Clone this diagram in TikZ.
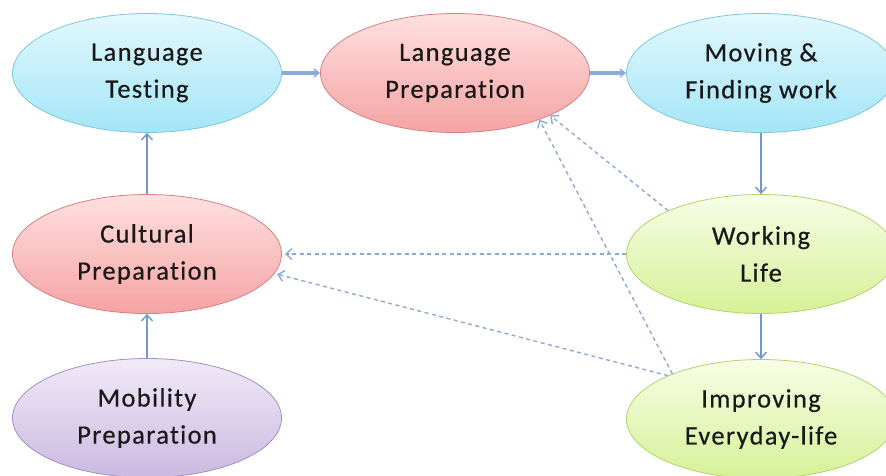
\documentclass[tikz,border=0pt]{standalone}
\usepackage{fontspec}
\setmainfont[LetterSpace=5,Ligatures={NoCommon},FakeBold=0.4]{Carlito}
\usetikzlibrary{shapes.geometric,arrows.meta}
\definecolor{cyT}{HTML}{E2F8FD}\definecolor{cyB}{HTML}{A4E5F7}\definecolor{cyD}{HTML}{80C6DA}
\definecolor{pkT}{HTML}{FFE0E0}\definecolor{pkB}{HTML}{F5A3A3}\definecolor{pkD}{HTML}{D88080}
\definecolor{gnT}{HTML}{F7FDE6}\definecolor{gnB}{HTML}{D6F197}\definecolor{gnD}{HTML}{B3D36C}
\definecolor{puT}{HTML}{F0EAF7}\definecolor{puB}{HTML}{CBB9E1}\definecolor{puD}{HTML}{A58DC4}
\definecolor{arr}{HTML}{7396CC}
\definecolor{arrl}{HTML}{8CA9D9}
\tikzset{
  oval/.style={ellipse, minimum width=269pt, minimum height=119pt, inner sep=0pt,
    align=center, font=\fontsize{26.5}{37}\selectfont, text=black!90, line width=0.8pt, shading=axis},
  cyanoval/.style={oval, draw=cyD, top color=cyT, bottom color=cyB},
  pinkoval/.style={oval, draw=pkD, top color=pkT, bottom color=pkB},
  greenoval/.style={oval, draw=gnD, top color=gnT, bottom color=gnB},
  purpoval/.style={oval, draw=puD, top color=puT, bottom color=puB},
  thickarr/.style={draw=arrl, line width=3.2pt, -{Straight Barb[length=5pt,width=8pt,line width=1.4pt]}},
  thinarr/.style={draw=arr, line width=1.4pt, -{Straight Barb[length=6pt,width=11pt]}},
  dasharr/.style={draw=arrl, line width=1.4pt, dash pattern=on 4pt off 3.5pt, -{Straight Barb[length=6pt,width=11pt]}}
}
\begin{document}
\begin{tikzpicture}[x=1pt,y=-1pt]
\useasboundingbox (0,0) rectangle (886,475);
\node[cyanoval] (LT) at (147,73) {Language\\Testing};
\node[pinkoval] (LP) at (455,73) {Language\\Preparation};
\node[cyanoval] (MF) at (761,73) {Moving \&\\Finding work};
\node[pinkoval] (CP) at (147,254) {Cultural\\Preparation};
\node[greenoval] (WL) at (761,254) {Working\\Life};
\node[purpoval] (MP) at (147,418) {Mobility\\Preparation};
\node[greenoval] (IE) at (761,419) {Improving\\Everyday-life};
\draw[thickarr] (LT.east) -- (LP.west);
\draw[thickarr] (LP.east) -- (MF.west);
\draw[thinarr] (MF.south) -- (WL.north);
\draw[thinarr] (WL.south) -- (IE.north);
\draw[thinarr] (CP.north) -- (LT.south);
\draw[thinarr] (MP.north) -- (CP.south);
\draw[dasharr] (WL.west) -- ([xshift=3pt]CP.east);
\draw[dasharr] (IE.155) -- ([xshift=3pt]CP.-9);
\draw[dasharr] (WL.155) -- (LP.-24);
\draw[dasharr] (IE.153) -- (LP.-29);
\end{tikzpicture}
\end{document}
